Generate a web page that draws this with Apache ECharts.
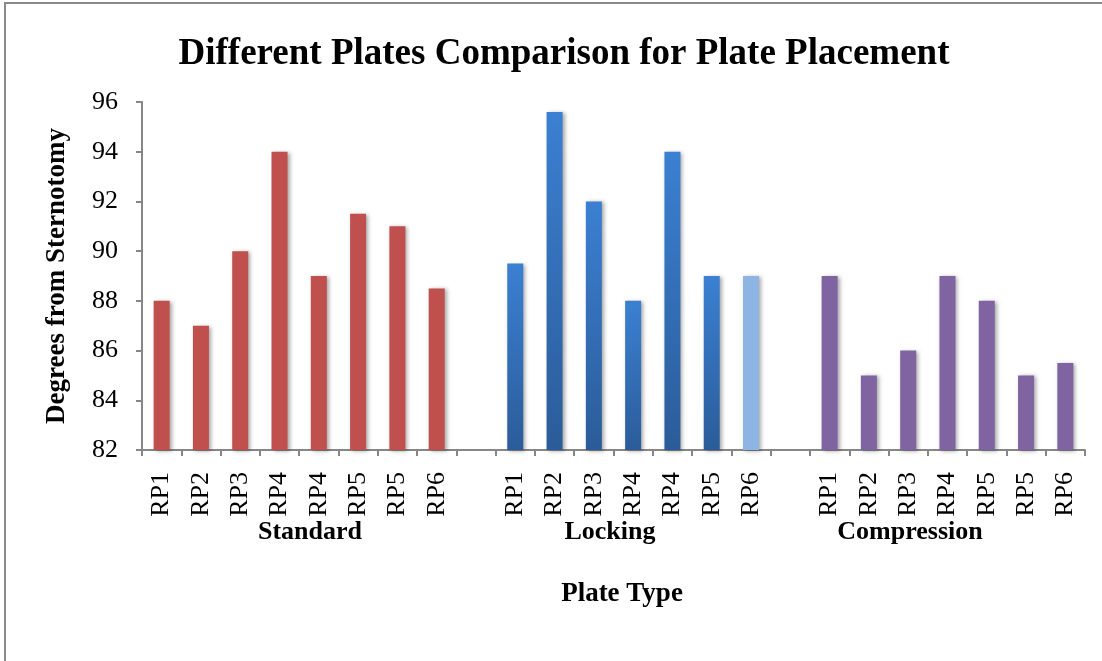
<!DOCTYPE html>
<html>
<head>
<meta charset="utf-8">
<script src="https://cdn.jsdelivr.net/npm/echarts@6/dist/echarts.min.js"></script>
<style>html,body{margin:0;padding:0;background:#fff;}#chart{width:1102px;height:661px;}</style>
</head>
<body>
<div id="chart"></div>
<script>
// ---- data ----
const groupNames = ['Standard', 'Locking', 'Compression'];
const standardLabels = ['RP1', 'RP2', 'RP3', 'RP4', 'RP4', 'RP5', 'RP5', 'RP6'];
const standardValues = [88, 87, 90, 94, 89, 91.5, 91, 88.5];
const lockingLabels = ['RP1', 'RP2', 'RP3', 'RP4', 'RP4', 'RP5', 'RP6'];
const lockingValues = [89.5, 95.6, 92, 88, 94, 89, 89];
const compressionLabels = ['RP1', 'RP2', 'RP3', 'RP4', 'RP5', 'RP5', 'RP6'];
const compressionValues = [89, 85, 86, 89, 88, 85, 85.5];
const yTicks = [82, 84, 86, 88, 90, 92, 94, 96];

// ---- styles ----
const serif = '"Liberation Serif", "Times New Roman", serif';
const shadow = { shadowBlur: 4, shadowColor: 'rgba(0,0,0,0.35)', shadowOffsetX: 2, shadowOffsetY: 1 };
const redStyle = Object.assign({ color: '#C0504D' }, shadow);
const blueStyle = Object.assign({
  color: { type: 'linear', x: 0, y: 0, x2: 0, y2: 1,
    colorStops: [{ offset: 0, color: '#3B80D2' }, { offset: 1, color: '#2B5C99' }] }
}, shadow);
const lightBlueStyle = Object.assign({ color: '#8EB4E3' }, shadow);
const purpleStyle = Object.assign({ color: '#8064A2' }, shadow);

const categories = [...standardLabels, '', ...lockingLabels, '', ...compressionLabels];
const seriesData = [
  ...standardValues.map(v => ({ value: v, itemStyle: redStyle })),
  '-',
  ...lockingValues.map((v, i) => ({ value: v, itemStyle: i === lockingValues.length - 1 ? lightBlueStyle : blueStyle })),
  '-',
  ...compressionValues.map(v => ({ value: v, itemStyle: purpleStyle }))
];

const chart = echarts.init(document.getElementById('chart'), null, { renderer: 'canvas' });
chart.setOption({
  backgroundColor: '#ffffff',
  animation: false,
  title: {
    text: 'Different Plates Comparison for Plate Placement',
    left: 559, top: 31, textAlign: 'center',
    textStyle: { fontFamily: serif, fontWeight: 'bold', fontSize: 37, color: '#000' }
  },
  grid: { left: 142, right: 17, top: 102, bottom: 211, containLabel: false },
  xAxis: {
    type: 'category',
    data: categories,
    boundaryGap: true,
    axisLine: { lineStyle: { color: '#878787', width: 2 } },
    axisTick: { show: true, interval: 0, length: 6, lineStyle: { color: '#878787', width: 2 } },
    axisLabel: { interval: 0, rotate: 90, margin: 22, fontFamily: serif, fontSize: 26, color: '#000' },
    splitLine: { show: false }
  },
  yAxis: {
    type: 'value',
    min: yTicks[0], max: yTicks[yTicks.length - 1], interval: 2,
    name: 'Degrees from Sternotomy',
    nameLocation: 'middle', nameGap: 71, nameRotate: 90,
    nameTextStyle: { fontFamily: serif, fontWeight: 'bold', fontSize: 27, color: '#000' },
    axisLine: { show: true, lineStyle: { color: '#878787', width: 2 } },
    axisTick: { show: true, length: 6, lineStyle: { color: '#878787', width: 2 } },
    axisLabel: { margin: 24, fontFamily: serif, fontSize: 26, color: '#000' },
    splitLine: { show: false }
  },
  series: [{
    type: 'bar',
    data: seriesData,
    barWidth: 16
  }],
  graphic: [
    { type: 'rect', shape: { x: 5, y: 3, width: 1200, height: 800 }, style: { fill: 'none', stroke: '#8a8a8a', lineWidth: 2 }, silent: true, z: -1 },
    { type: 'text', x: 310, y: 532, style: { text: groupNames[0], font: 'bold 26px ' + serif, fill: '#000', textAlign: 'center', textVerticalAlign: 'middle' } },
    { type: 'text', x: 610, y: 532, style: { text: groupNames[1], font: 'bold 26px ' + serif, fill: '#000', textAlign: 'center', textVerticalAlign: 'middle' } },
    { type: 'text', x: 910, y: 532, style: { text: groupNames[2], font: 'bold 26px ' + serif, fill: '#000', textAlign: 'center', textVerticalAlign: 'middle' } },
    { type: 'text', x: 622, y: 594, style: { text: 'Plate Type', font: 'bold 27px ' + serif, fill: '#000', textAlign: 'center', textVerticalAlign: 'middle' } }
  ]
});
</script>
</body>
</html>
